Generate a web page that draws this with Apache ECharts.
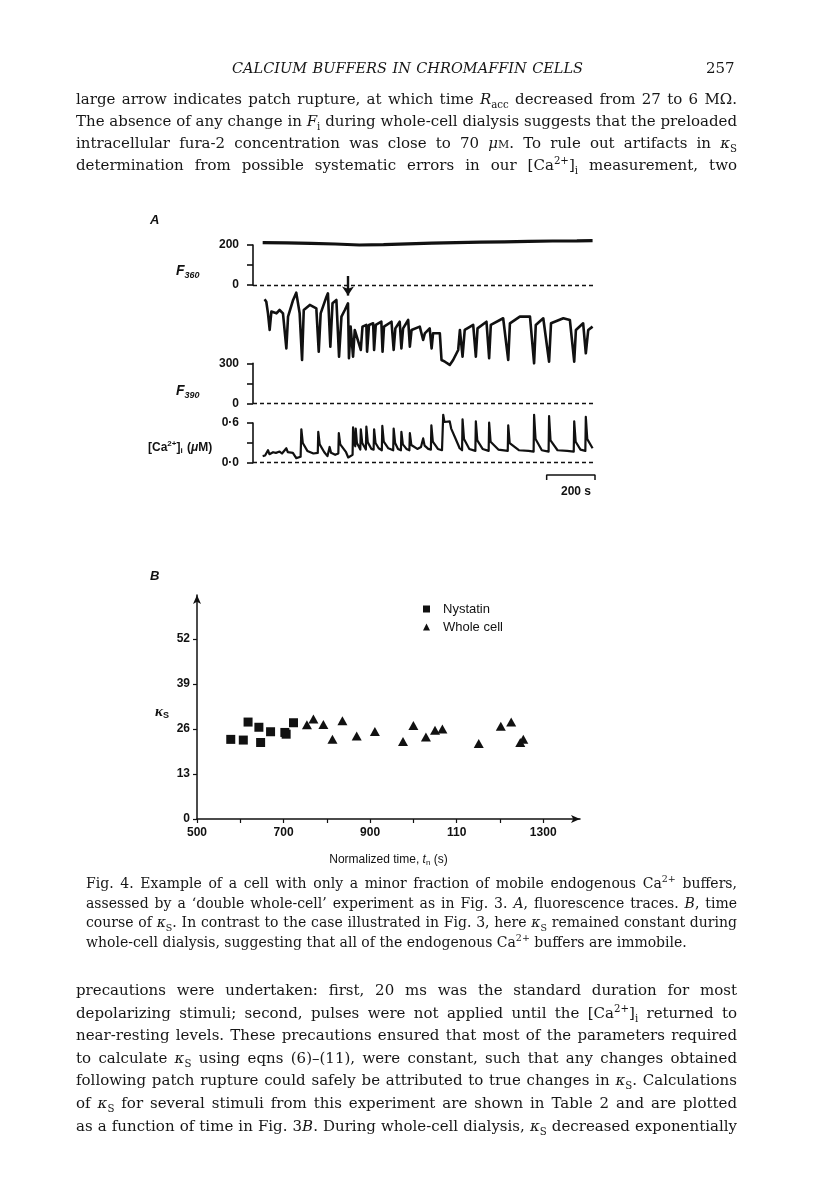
<!DOCTYPE html>
<html><head><meta charset="utf-8">
<script src="https://cdn.jsdelivr.net/npm/echarts@6/dist/echarts.min.js"></script>
<style>
html,body{margin:0;padding:0;background:#fff;}
#page{position:relative;width:816px;height:1200px;overflow:hidden;background:#fff;}
#chart{position:absolute;left:0;top:0;width:816px;height:1200px;}
.t{position:absolute;font-family:'DejaVu Serif','Liberation Serif',serif;color:#161616;white-space:nowrap;line-height:20px;}
.body{font-size:15px;}
.cap{font-size:14px;}
sub,sup{font-size:68%;line-height:0;}
.sc{font-variant:small-caps;}
</style>
</head><body>
<div id="page">
<div id="chart"></div>
<div class="t" style="left:232px;top:58px;font-size:14.5px;font-style:italic;" data-w="351">CALCIUM BUFFERS IN CHROMAFFIN CELLS</div>
<div class="t" style="left:706px;top:58px;font-size:15px;">257</div>

<div class="t body" style="left:76px;top:89px;" data-w="661">large arrow indicates patch rupture, at which time <i>R</i><sub>acc</sub> decreased from 27 to 6 MΩ.</div>
<div class="t body" style="left:76px;top:111px;" data-w="661">The absence of any change in <i>F</i><sub>i</sub> during whole-cell dialysis suggests that the preloaded</div>
<div class="t body" style="left:76px;top:133px;" data-w="661">intracellular fura-2 concentration was close to 70 <i>μ</i><span class="sc">m</span>. To rule out artifacts in <i>κ</i><sub>S</sub></div>
<div class="t body" style="left:76px;top:155px;" data-w="661">determination from possible systematic errors in our [Ca<sup>2+</sup>]<sub>i</sub> measurement, two</div>

<div class="t cap" style="left:86px;top:873px;" data-w="651">Fig. 4. Example of a cell with only a minor fraction of mobile endogenous Ca<sup>2+</sup> buffers,</div>
<div class="t cap" style="left:86px;top:893px;" data-w="651">assessed by a ‘double whole-cell’ experiment as in Fig. 3. <i>A</i>, fluorescence traces. <i>B</i>, time</div>
<div class="t cap" style="left:86px;top:912px;" data-w="651">course of <i>κ</i><sub>S</sub>. In contrast to the case illustrated in Fig. 3, here <i>κ</i><sub>S</sub> remained constant during</div>
<div class="t cap" style="left:86px;top:932px;">whole-cell dialysis, suggesting that all of the endogenous Ca<sup>2+</sup> buffers are immobile.</div>

<div class="t body" style="left:76px;top:980px;" data-w="661">precautions were undertaken: first, 20 ms was the standard duration for most</div>
<div class="t body" style="left:76px;top:1003px;" data-w="661">depolarizing stimuli; second, pulses were not applied until the [Ca<sup>2+</sup>]<sub>i</sub> returned to</div>
<div class="t body" style="left:76px;top:1025px;" data-w="661">near-resting levels. These precautions ensured that most of the parameters required</div>
<div class="t body" style="left:76px;top:1048px;" data-w="661">to calculate <i>κ</i><sub>S</sub> using eqns (6)–(11), were constant, such that any changes obtained</div>
<div class="t body" style="left:76px;top:1070px;" data-w="661">following patch rupture could safely be attributed to true changes in <i>κ</i><sub>S</sub>. Calculations</div>
<div class="t body" style="left:76px;top:1093px;" data-w="661">of <i>κ</i><sub>S</sub> for several stimuli from this experiment are shown in Table 2 and are plotted</div>
<div class="t body" style="left:76px;top:1116px;" data-w="661">as a function of time in Fig. 3<i>B</i>. During whole-cell dialysis, <i>κ</i><sub>S</sub> decreased exponentially</div>
</div>
<script>
// ---------- Panel A traces: [time (s), value] ----------
const f360Trace = [[0,212],[100,211],[200,208],[300,205],[400,200],[500,202],[600,206],[700,209],[800,212],[900,214],[1000,216],[1100,218],[1200,220],[1300,221],[1365,222]];

const f390Trace = [[8,780],[15,762],[22,675],[29,550],[36,688],[57,675],[70,700],[84,675],[98,412],[105,650],[126,775],[139,830],[153,675],[163,325],[170,700],[195,738],[222,712],[232,388],[240,675],[264,800],[270,825],[280,425],[289,750],[305,775],[316,350],[326,650],[340,700],[353,750],[357,338],[364,575],[374,350],[381,550],[388,562],[406,400],[413,575],[429,588],[432,388],[440,588],[457,600],[461,400],[468,588],[491,612],[496,388],[502,575],[533,612],[542,400],[549,562],[567,612],[574,412],[581,562],[602,625],[609,425],[616,550],[650,575],[664,475],[671,525],[691,562],[699,412],[705,525],[733,525],[740,325],[754,312],[774,288],[788,325],[809,400],[816,550],[827,350],[836,550],[871,588],[882,350],[889,562],[926,612],[937,338],[944,588],[995,638],[1016,325],[1023,600],[1064,650],[1106,650],[1123,300],[1130,588],[1161,638],[1185,312],[1193,600],[1244,638],[1271,625],[1289,312],[1296,550],[1326,600],[1337,375],[1347,550],[1365,575]];

const caTrace = [[0,0.10],[10,0.11],[22,0.19],[28,0.13],[43,0.16],[55,0.15],[70,0.17],[80,0.14],[98,0.22],[104,0.16],[125,0.15],[139,0.07],[157,0.09],[160,0.51],[166,0.30],[185,0.18],[210,0.14],[228,0.15],[230,0.47],[236,0.28],[255,0.16],[268,0.10],[277,0.24],[283,0.15],[300,0.12],[313,0.14],[315,0.45],[321,0.28],[345,0.16],[354,0.08],[372,0.12],[374,0.54],[379,0.30],[383,0.25],[385,0.52],[390,0.30],[404,0.20],[406,0.51],[412,0.30],[427,0.20],[429,0.55],[435,0.31],[450,0.21],[459,0.20],[461,0.51],[467,0.30],[480,0.22],[493,0.19],[495,0.56],[501,0.32],[520,0.22],[540,0.19],[542,0.52],[548,0.30],[560,0.21],[572,0.19],[574,0.47],[580,0.28],[595,0.21],[607,0.19],[609,0.45],[615,0.27],[640,0.21],[655,0.24],[662,0.22],[664,0.37],[670,0.26],[685,0.21],[696,0.20],[698,0.57],[704,0.32],[725,0.21],[742,0.19],[747,0.73],[752,0.62],[760,0.60],[774,0.63],[780,0.52],[800,0.35],[815,0.22],[825,0.19],[827,0.66],[833,0.36],[855,0.21],[880,0.18],[882,0.63],[888,0.34],[910,0.21],[935,0.18],[937,0.61],[943,0.32],[975,0.20],[1014,0.18],[1016,0.57],[1022,0.30],[1060,0.19],[1100,0.18],[1121,0.17],[1123,0.73],[1129,0.36],[1155,0.19],[1183,0.17],[1185,0.71],[1191,0.34],[1220,0.19],[1260,0.18],[1287,0.17],[1289,0.63],[1295,0.32],[1315,0.20],[1335,0.18],[1337,0.70],[1343,0.36],[1365,0.22]];

// patch rupture arrow (time, F390 units from top to tip)
const ruptureTime = 353;
const ruptureArrowLevels = [955, 808];
// 200 s scale bar (seconds, [Ca] units)
const scaleBarSeconds = [1175, 1375];
const scaleBarLevels = [-0.263, -0.187];

// bracket scale labels
const f360Ticks = [0, 200];
const f390Ticks = [0, 300];
const caTicks = ['0·0', '0·6'];

// ---------- Panel B ----------
const nystatinTime = [578, 607, 618, 643, 647, 670, 703, 706, 723];
const nystatinKs   = [23.0, 22.8, 28.0, 26.5, 22.1, 25.2, 25.0, 24.5, 27.8];
const wholeCellTime = [754, 769, 792, 813, 836, 869, 911, 976, 1000, 1029, 1050, 1067, 1151, 1202, 1226, 1247, 1254];
const wholeCellKs   = [27.2, 28.9, 27.3, 23.0, 28.4, 24.0, 25.3, 22.4, 27.0, 23.7, 25.6, 26.0, 21.8, 26.8, 28.0, 22.1, 23.0];
const bXTickValues = [500, 600, 700, 800, 900, 1000, 1100, 1200, 1300];
const bXLabelValues = [500, 700, 900, 1100, 1300];
const bXLabels = ['500', '700', '900', '110', '1300'];
const bYTicks = [0, 13, 26, 39, 52];
const seriesNames = ['Nystatin', 'Whole cell'];

// ---------- chart ----------
const INK = '#111';
const SANS = "'Liberation Sans', Arial, sans-serif";
const chart = echarts.init(document.getElementById('chart'), null, {renderer: 'canvas'});
const lblFont = {fontFamily: SANS, fontWeight: 'bold', fontSize: 12, color: INK};
function bracketY(gridIndex, max, interval, fmt) {
  return {gridIndex, type: 'value', min: 0, max, interval,
    axisLine: {show: true, lineStyle: {color: INK, width: 1.6}},
    axisTick: {show: true, inside: false, length: 6, lineStyle: {color: INK, width: 1.6}},
    axisLabel: Object.assign({margin: 14, formatter: fmt}, lblFont),
    splitLine: {show: false}};
}
const hiddenX = (gridIndex, min, max) => ({gridIndex, type: 'value', min, max, show: false, splitLine: {show: false}});
const hiddenY = (gridIndex, min, max) => ({gridIndex, type: 'value', min, max, show: false, splitLine: {show: false}});
const dashed = {silent: true, symbol: ['none', 'none'], label: {show: false},
  lineStyle: {color: INK, type: [4, 3], width: 1.4}, emphasis: {disabled: true}, data: [{yAxis: 0}]};
const fLabelRich = {f: {fontFamily: SANS, fontStyle: 'italic', fontWeight: 'bold', fontSize: 14, color: INK},
  s: {fontFamily: SANS, fontStyle: 'italic', fontWeight: 'bold', fontSize: 9, color: INK, padding: [8, 0, 0, 0]}};

const option = {
  animation: false,
  backgroundColor: '#fff',
  title: [
    {text: 'A', left: 145, top: 209, textStyle: {fontFamily: SANS, fontStyle: 'italic', fontWeight: 'bold', fontSize: 13, color: INK}},
    {text: 'B', left: 145, top: 565, textStyle: {fontFamily: SANS, fontStyle: 'italic', fontWeight: 'bold', fontSize: 13, color: INK}},
    {text: '{f|F}{s|360}', left: 171, top: 258, textStyle: {rich: fLabelRich}},
    {text: '{f|F}{s|390}', left: 171, top: 378, textStyle: {rich: fLabelRich}},
    {text: '{n|[Ca}{sup|2+}{n|]}{sub|i}{n| (}{mu|μ}{n|M)}', left: 143, top: 435, textStyle: {rich: {
      n: {fontFamily: SANS, fontSize: 12, color: INK},
      mu: {fontFamily: SANS, fontStyle: 'italic', fontSize: 12, color: INK},
      sup: {fontFamily: SANS, fontSize: 8, color: INK, padding: [0, 0, 7, 0]},
      sub: {fontFamily: SANS, fontSize: 8, color: INK, padding: [7, 1, 0, 0]}}}},
    {text: '200 s', left: 556, top: 481, textStyle: lblFont},
    {text: '{k|κ}{s|S}', left: 150, top: 700, textStyle: {rich: {k: {fontFamily: "'Liberation Serif', serif", fontStyle: 'italic', fontSize: 15, color: INK}, s: {fontFamily: SANS, fontSize: 9, color: INK, padding: [6, 0, 0, 0]}}}}
  ],
  legend: {
    data: [{name: seriesNames[0], icon: 'rect', itemStyle: {color: INK, opacity: 1}},
           {name: seriesNames[1], icon: 'triangle', itemStyle: {color: INK, opacity: 1}}],
    orient: 'vertical', left: 418, top: 597, itemWidth: 7, itemHeight: 7, itemGap: 4,
    textStyle: {fontFamily: SANS, fontSize: 13, color: INK, lineHeight: 14, padding: [0, 0, 0, 8]},
    selectedMode: false
  },
  grid: [
    {left: 253, width: 342, top: 235, height: 50},      // 0 F360 trace
    {left: 253, width: 10, top: 245, height: 40},       // 1 F360 bracket
    {left: 253, width: 342, top: 270, height: 133.3},   // 2 F390 trace
    {left: 253, width: 10, top: 363.3, height: 40},     // 3 F390 bracket
    {left: 253, width: 342, top: 410.2, height: 72.2},  // 4 Ca trace
    {left: 253, width: 10, top: 423, height: 39.7},     // 5 Ca bracket
    {left: 197, width: 383, top: 595, height: 224}      // 6 panel B
  ],
  xAxis: [
    hiddenX(0, -40, 1375), hiddenX(1, 0, 1), hiddenX(2, -40, 1375), hiddenX(3, 0, 1),
    hiddenX(4, -40, 1375), hiddenX(5, 0, 1),
    {gridIndex: 6, type: 'value', min: 500, max: 1385,
      axisLine: {show: true, symbol: ['none', 'arrow'], symbolSize: [6, 9], lineStyle: {color: INK, width: 1.5}},
      axisTick: {show: true, length: 4, customValues: bXTickValues, lineStyle: {color: INK, width: 1.2}},
      axisLabel: Object.assign({margin: 8, customValues: bXLabelValues,
        formatter: v => { const i = bXLabelValues.indexOf(Math.round(v)); return i >= 0 ? bXLabels[i] : ''; }}, lblFont),
      splitLine: {show: false},
      name: 'Normalized time, {i|t}{sub|n} (s)', nameLocation: 'middle', nameGap: 34,
      nameTextStyle: {fontFamily: SANS, fontSize: 12, color: INK,
        rich: {i: {fontFamily: SANS, fontStyle: 'italic', fontSize: 12, color: INK},
               sub: {fontFamily: SANS, fontSize: 8, color: INK, padding: [6, 0, 0, 0]}}}
    }
  ],
  yAxis: [
    hiddenY(0, 0, 250),
    bracketY(1, 200, 100, v => f360Ticks.includes(v) ? String(v) : ''),
    hiddenY(2, 0, 1000),
    bracketY(3, 300, 150, v => f390Ticks.includes(v) ? String(v) : ''),
    hiddenY(4, -0.3, 0.8),
    bracketY(5, 0.6, 0.3, v => Math.abs(v) < 1e-6 ? caTicks[0] : (Math.abs(v - 0.6) < 1e-6 ? caTicks[1] : '')),
    {gridIndex: 6, type: 'value', min: 0, max: 64.7,
      axisLine: {show: true, symbol: ['none', 'arrow'], symbolSize: [6, 9], lineStyle: {color: INK, width: 1.5}},
      axisTick: {show: true, length: 4, customValues: bYTicks, lineStyle: {color: INK, width: 1.2}},
      axisLabel: Object.assign({margin: 7, customValues: bYTicks}, lblFont),
      splitLine: {show: false}}
  ],
  series: [
    {type: 'line', name: 'F360', xAxisIndex: 0, yAxisIndex: 0, data: f360Trace, symbol: 'none',
      lineStyle: {color: INK, width: 3.2}, silent: true, markLine: dashed},
    {type: 'line', name: 'F390', xAxisIndex: 2, yAxisIndex: 2, data: f390Trace, symbol: 'none',
      lineStyle: {color: INK, width: 2.6, join: 'round'}, silent: true,
      markLine: {silent: true, symbol: ['none', 'arrow'], symbolSize: 9, label: {show: false},
        lineStyle: {color: INK, type: 'solid', width: 2.4},
        data: [[{coord: [ruptureTime, ruptureArrowLevels[0]]}, {coord: [ruptureTime, ruptureArrowLevels[1]]}]]}},
    {type: 'line', name: 'F390 zero', xAxisIndex: 2, yAxisIndex: 2, data: [], markLine: dashed},
    {type: 'line', name: 'Ca', xAxisIndex: 4, yAxisIndex: 4, data: caTrace, symbol: 'none',
      lineStyle: {color: INK, width: 2.2, join: 'round'}, silent: true, markLine: dashed},
    {type: 'line', name: 'scale', xAxisIndex: 4, yAxisIndex: 4, symbol: 'none', silent: true,
      lineStyle: {color: INK, width: 1.5},
      data: [[scaleBarSeconds[0], scaleBarLevels[0]], [scaleBarSeconds[0], scaleBarLevels[1]],
             [scaleBarSeconds[1], scaleBarLevels[1]], [scaleBarSeconds[1], scaleBarLevels[0]]]},
    {type: 'scatter', name: seriesNames[0], xAxisIndex: 6, yAxisIndex: 6, symbol: 'rect', symbolSize: 9,
      itemStyle: {color: INK, opacity: 1}, data: nystatinTime.map((t, i) => [t, nystatinKs[i]])},
    {type: 'scatter', name: seriesNames[1], xAxisIndex: 6, yAxisIndex: 6, symbol: 'triangle', symbolSize: [10, 9],
      itemStyle: {color: INK, opacity: 1}, data: wholeCellTime.map((t, i) => [t, wholeCellKs[i]])}
  ]
};
chart.setOption(option);

// justify page text lines to their measured widths
document.querySelectorAll('[data-w]').forEach(el => {
  const target = parseFloat(el.dataset.w);
  const w = el.getBoundingClientRect().width;
  const spaces = (el.textContent.match(/ /g) || []).length;
  if (spaces) el.style.wordSpacing = ((target - w) / spaces) + 'px';
});
</script>
</body></html>
